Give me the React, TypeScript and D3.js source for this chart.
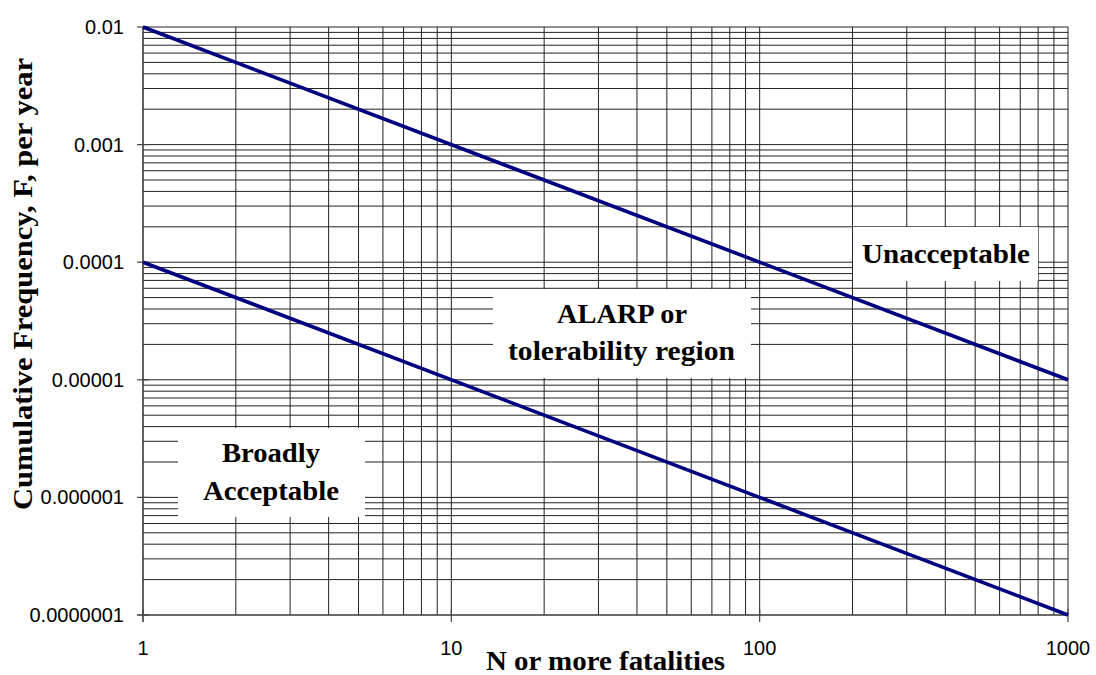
import React from "react";
import * as d3 from "d3";

// F-N criterion lines (N, F pairs)
const unacceptableLine: [number, number][] = [
  [1, 0.01],
  [1000, 0.00001],
];
const broadlyLine: [number, number][] = [
  [1, 0.0001],
  [1000, 0.0000001],
];
const xTickValues = [1, 10, 100, 1000];
const xTickLabels = ["1", "10", "100", "1000"];
const yTickValues = [0.01, 0.001, 0.0001, 0.00001, 0.000001, 0.0000001];
const yTickLabels = ["0.01", "0.001", "0.0001", "0.00001", "0.000001", "0.0000001"];

const W = 1096;
const H = 675;
const left = 143;
const right = 1068;
const top = 27;
const bottom = 615;

const serif = "'Liberation Serif', 'Times New Roman', serif";
const sans = "'Liberation Sans', Arial, sans-serif";

export default function App() {
  const x = d3.scaleLog().domain([1, 1000]).range([left, right]);
  const y = d3.scaleLog().domain([1e-7, 1e-2]).range([bottom, top]);

  // grid values: 1..9 within each decade
  const xGrid: number[] = [];
  for (let e = 0; e < 3; e++) for (let m = 1; m <= 9; m++) xGrid.push(m * Math.pow(10, e));
  xGrid.push(1000);
  const yGrid: number[] = [];
  for (let e = -7; e < -2; e++) for (let m = 1; m <= 9; m++) yGrid.push(m * Math.pow(10, e));
  yGrid.push(0.01);

  const line = d3
    .line<[number, number]>()
    .x((d) => x(d[0]))
    .y((d) => y(d[1]));

  const gridColor = "#222";

  return (
    <svg
      width={W}
      height={H}
      style={{ position: "absolute", left: 0, top: 0, background: "#fff" }}
    >
      <rect x={0} y={0} width={W} height={H} fill="#fff" />
      {/* gridlines */}
      <g stroke={gridColor} strokeWidth={1}>
        {yGrid.map((v, i) => (
          <line key={"hy" + i} x1={left} x2={right} y1={y(v)} y2={y(v)} />
        ))}
        {xGrid.map((v, i) => (
          <line key={"vx" + i} x1={x(v)} x2={x(v)} y1={top} y2={bottom} />
        ))}
      </g>

      {/* axes */}
      <g stroke="#444" strokeWidth={1.2}>
        <line x1={left} x2={left} y1={top} y2={bottom + 7} />
        <line x1={left - 6} x2={right} y1={bottom} y2={bottom} />
        {yTickValues.map((v, i) => (
          <line key={"yt" + i} x1={left - 6} x2={left + 6} y1={y(v)} y2={y(v)} />
        ))}
        {xTickValues.map((v, i) => (
          <line key={"xt" + i} x1={x(v)} x2={x(v)} y1={bottom - 6} y2={bottom + 7} />
        ))}
      </g>

      {/* region label boxes */}
      <rect x={853} y={227} width={185} height={54} fill="#fff" />
      <rect x={493} y={289} width={258} height={89} fill="#fff" />
      <rect x={178} y={428} width={187} height={89} fill="#fff" />

      {/* criterion lines */}
      <path d={line(unacceptableLine) || ""} fill="none" stroke="#000080" strokeWidth={3.6} />
      <path d={line(broadlyLine) || ""} fill="none" stroke="#000080" strokeWidth={3.6} />

      {/* tick labels */}
      <g fontFamily={sans} fontSize={20} fill="#000">
        {yTickValues.map((v, i) => (
          <text key={"yl" + i} x={124} y={y(v)} textAnchor="end" dominantBaseline="central">
            {yTickLabels[i]}
          </text>
        ))}
        {xTickValues.map((v, i) => (
          <text key={"xl" + i} x={x(v)} y={655} textAnchor="middle">
            {xTickLabels[i]}
          </text>
        ))}
      </g>

      {/* region labels */}
      <g fontFamily={serif} fontWeight="bold" fontSize={27} fill="#000" textAnchor="middle">
        <text x={946} y={263} textLength={168} lengthAdjust="spacingAndGlyphs">
          Unacceptable
        </text>
        <text x={622} y={323} textLength={130} lengthAdjust="spacingAndGlyphs">
          ALARP or
        </text>
        <text x={621.5} y={360} textLength={227} lengthAdjust="spacingAndGlyphs">
          tolerability region
        </text>
        <text x={271} y={462} textLength={98} lengthAdjust="spacingAndGlyphs">
          Broadly
        </text>
        <text x={271} y={500} textLength={136} lengthAdjust="spacingAndGlyphs">
          Acceptable
        </text>
      </g>

      {/* axis titles */}
      <g fontFamily={serif} fontWeight="bold" fontSize={27} fill="#000" textAnchor="middle">
        <text x={605.5} y={670} textLength={239} lengthAdjust="spacingAndGlyphs">
          N or more fatalities
        </text>
        <text
          transform={`translate(32,284) rotate(-90)`}
          textLength={452}
          lengthAdjust="spacingAndGlyphs"
        >
          Cumulative Frequency, F, per year
        </text>
      </g>
    </svg>
  );
}
